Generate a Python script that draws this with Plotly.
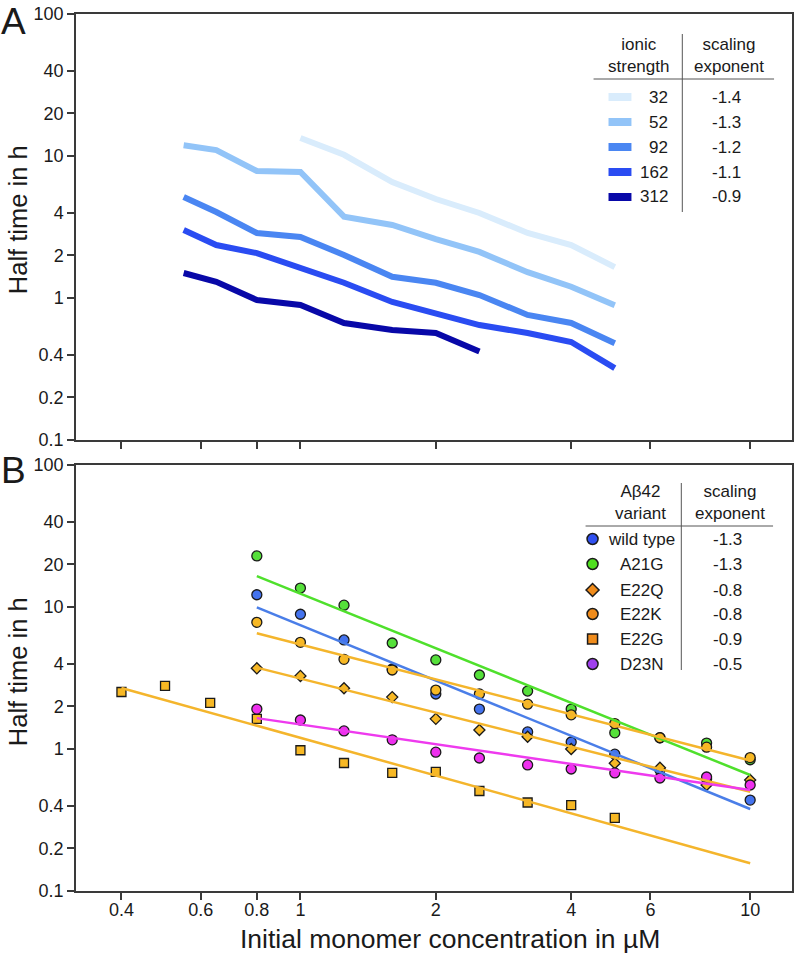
import plotly.graph_objects as go

# ---------------- data ----------------
# Panel A: half time (h) vs initial monomer concentration (uM) at different ionic strengths
conc_A = [0.55, 0.65, 0.8, 1.0, 1.25, 1.6, 2.0, 2.5, 3.2, 4.0, 5.0]
ionic_labels = ["32", "52", "92", "162", "312"]
ionic_exponents = ["-1.4", "-1.3", "-1.2", "-1.1", "-0.9"]
t_I32 = [None, None, None, 13.4, 10.2, 6.56, 4.98, 3.97, 2.87, 2.36, 1.65]
t_I52 = [11.9, 11.0, 7.84, 7.72, 3.74, 3.27, 2.60, 2.11, 1.52, 1.20, 0.89]
t_I92 = [5.14, 4.03, 2.87, 2.69, 2.01, 1.41, 1.28, 1.05, 0.76, 0.667, 0.48]
t_I162 = [3.01, 2.36, 2.07, 1.63, 1.28, 0.937, 0.784, 0.645, 0.567, 0.49, 0.321]
t_I312 = [1.50, 1.30, 0.968, 0.893, 0.667, 0.595, 0.567, 0.42, None, None, None]

# Panel B: Abeta42 variants
conc_B = [0.4, 0.5, 0.63, 0.8, 1.0, 1.25, 1.6, 2.0, 2.5, 3.2, 4.0, 5.0, 6.3, 8.0, 10.0]
variant_labels = ["wild type", "A21G", "E22Q", "E22K", "E22G", "D23N"]
variant_exponents = ["-1.3", "-1.3", "-0.8", "-0.8", "-0.9", "-0.5"]
t_wt = [None, None, None, 12.2, 8.89, 5.86, 3.66, 2.44, 1.91, 1.32, 1.12, 0.92, 0.711, 0.615, 0.437]
t_A21G = [None, None, None, 22.9, 13.6, 10.3, 5.58, 4.24, 3.32, 2.56, 1.91, 1.30, 1.20, 1.10, 0.84]
t_E22Q = [None, None, None, 3.70, 3.27, 2.68, 2.32, 1.63, 1.36, 1.22, 1.0, 0.793, 0.738, 0.558, 0.605]
t_E22K = [None, None, None, 7.8, 5.64, 4.28, 3.6, 2.6, 2.44, 2.07, 1.74, 1.51, 1.20, 1.03, 0.87]
t_E22G = [2.52, 2.78, 2.11, 1.63, 0.98, 0.797, 0.678, 0.689, 0.506, 0.42, 0.403, 0.327, None, None, None]
t_D23N = [None, None, None, 1.91, 1.60, 1.34, 1.16, 0.95, 0.864, 0.772, 0.723, 0.678, 0.625, 0.635, 0.558]

# power-law fit lines (end points)
fit_wt_x, fit_wt_y = [0.8, 10], [9.95, 0.378]
fit_A21G_x, fit_A21G_y = [0.8, 10], [16.5, 0.656]
fit_E22Q_x, fit_E22Q_y = [0.8, 10], [3.74, 0.50]
fit_E22K_x, fit_E22K_y = [0.8, 10], [6.53, 0.83]
fit_E22G_x, fit_E22G_y = [0.4, 10], [2.69, 0.157]
fit_D23N_x, fit_D23N_y = [0.8, 10], [1.65, 0.514]

tick_vals_x = [0.4, 0.6, 0.8, 1, 2, 4, 6, 10]
tick_text_x = ["0.4", "0.6", "0.8", "1", "2", "4", "6", "10"]
tick_vals_y = [0.1, 0.2, 0.4, 1, 2, 4, 10, 20, 40, 100]
tick_text_y = ["0.1", "0.2", "0.4", "1", "2", "4", "10", "20", "40", "100"]

# ---------------- styles ----------------
FONT = "Liberation Sans, Arial, sans-serif"
W, H = 796, 955
ML, MR, MT, MB = 76, 2, 14, 64
PW = W - ML - MR
PH = H - MT - MB

def px(x):
    return (x - ML) / PW

def py(y):
    return (H - MB - y) / PH

ionic_colors = ["#d9ecfc", "#92c4f8", "#4a86f2", "#2a4cf2", "#0808a8"]
ionic_series = [t_I32, t_I52, t_I92, t_I162, t_I312]

plot_colors = {"wt": "#4473ee", "A21G": "#55e03a", "E22Q": "#f7b824",
               "E22K": "#f7b824", "E22G": "#f7b824", "D23N": "#ee30ee"}
line_colors = {"wt": "#4a7ee8", "A21G": "#4fe02c", "E22Q": "#f4b52c",
               "E22K": "#f4b52c", "E22G": "#f4b52c", "D23N": "#ee3aee"}
legend_colors = ["#3050f0", "#50e020", "#f08c1c", "#f08c1c", "#f08c1c", "#a040ee"]

fig = go.Figure()

# Panel A lines
for lab, ser, col in zip(ionic_labels, ionic_series, ionic_colors):
    fig.add_trace(go.Scatter(x=conc_A, y=ser, mode="lines", name=lab,
                             line=dict(color=col, width=6), connectgaps=False,
                             xaxis="x", yaxis="y", showlegend=False))

# Panel B markers
marker_specs = [
    ("A21G", t_A21G, "circle", 10),
    ("wt", t_wt, "circle", 10),
    ("E22G", t_E22G, "square", 9),
    ("E22Q", t_E22Q, "diamond", 8.5),
    ("D23N", t_D23N, "circle", 10),
    ("E22K", t_E22K, "circle", 10),
]
for key, ser, sym, sz in marker_specs:
    fig.add_trace(go.Scatter(x=conc_B, y=ser, mode="markers", name=key,
                             marker=dict(symbol=sym, size=sz, color=plot_colors[key],
                                         line=dict(color="#1a1a1a", width=1.3)),
                             xaxis="x2", yaxis="y2", showlegend=False))

# Panel B fit lines
fits = [("A21G", fit_A21G_x, fit_A21G_y), ("wt", fit_wt_x, fit_wt_y),
        ("E22K", fit_E22K_x, fit_E22K_y), ("E22Q", fit_E22Q_x, fit_E22Q_y),
        ("E22G", fit_E22G_x, fit_E22G_y), ("D23N", fit_D23N_x, fit_D23N_y)]
for key, fx, fy in fits:
    fig.add_trace(go.Scatter(x=fx, y=fy, mode="lines", name=key + " fit",
                             line=dict(color=line_colors[key], width=2.5),
                             xaxis="x2", yaxis="y2", showlegend=False))

axis_common = dict(type="log", showgrid=False, zeroline=False, showline=True,
                   mirror=True, linecolor="#3a3a3a", linewidth=1.5,
                   ticks="outside", ticklen=7, tickwidth=1.5, tickcolor="#3a3a3a",
                   tickfont=dict(family=FONT, size=18, color="#1a1a1a"))
xrange = [-0.499, 1.093]
yrange = [-1, 2]
A_bottom = py(440)
B_top = py(465)

fig.update_layout(
    width=W, height=H, autosize=False,
    margin=dict(l=ML, r=MR, t=MT, b=MB, pad=0),
    paper_bgcolor="white", plot_bgcolor="white",
    font=dict(family=FONT, color="#1a1a1a"),
    xaxis=dict(axis_common, range=xrange, domain=[0, 1], anchor="y",
               tickvals=tick_vals_x, ticktext=tick_text_x, showticklabels=False),
    yaxis=dict(axis_common, range=yrange, domain=[A_bottom, 1], anchor="x",
               tickvals=tick_vals_y, ticktext=tick_text_y),
    xaxis2=dict(axis_common, range=xrange, domain=[0, 1], anchor="y2",
                tickvals=tick_vals_x, ticktext=tick_text_x, ticklabelstandoff=-5),
    yaxis2=dict(axis_common, range=yrange, domain=[0, B_top], anchor="x2",
                tickvals=tick_vals_y, ticktext=tick_text_y),
)

ann = []
shapes = []

def text(t, x, y, size=17, xanchor="center", angle=0):
    ann.append(dict(text=t, x=px(x), y=py(y), xref="paper", yref="paper",
                    xanchor=xanchor, yanchor="middle", textangle=angle,
                    showarrow=False, font=dict(size=size, family=FONT, color="#1a1a1a")))

# panel letters
text("A", 13, 21, size=37)
text("B", 13, 470, size=37)
# axis titles
text("Half time in h", 18, 220, size=25.5, angle=-90)
text("Half time in h", 18, 672, size=25.5, angle=-90)
text("Initial monomer concentration in µM", 451, 939, size=26.5)

TABLE_LINE = dict(color="#555", width=1)

# Legend table A
text("ionic<br>strength", 640, 55)
text("scaling<br>exponent", 731, 55)
shapes.append(dict(type="line", xref="paper", yref="paper", x0=px(595), x1=px(776),
                   y0=py(79), y1=py(79), line=TABLE_LINE))
shapes.append(dict(type="line", xref="paper", yref="paper", x0=px(684), x1=px(684),
                   y0=py(34), y1=py(212), line=TABLE_LINE))
rowsA = [97, 122, 147, 172, 197]
for ry, lab, ex, col in zip(rowsA, ionic_labels, ionic_exponents, ionic_colors):
    shapes.append(dict(type="rect", xref="paper", yref="paper", x0=px(610), x1=px(633),
                       y0=py(ry + 4), y1=py(ry - 4), fillcolor=col, line=dict(width=0)))
    text(lab, 672, ry, xanchor="right")
    text(ex, 728, ry)

# Legend table B
text("Aβ42<br>variant", 642, 503)
text("scaling<br>exponent", 732, 503)
shapes.append(dict(type="line", xref="paper", yref="paper", x0=px(587), x1=px(775),
                   y0=py(526), y1=py(526), line=TABLE_LINE))
shapes.append(dict(type="line", xref="paper", yref="paper", x0=px(683), x1=px(683),
                   y0=py(483), y1=py(670), line=TABLE_LINE))
rowsB = [539, 564, 590, 614, 639, 664]
symB = ["circle", "circle", "diamond", "circle", "square", "circle"]
for ry, lab, ex, col, sym in zip(rowsB, variant_labels, variant_exponents, legend_colors, symB):
    base = dict(xref="paper", yref="paper", xsizemode="pixel", ysizemode="pixel",
                xanchor=px(594), yanchor=py(ry), fillcolor=col,
                line=dict(color="#1a1a1a", width=1.5))
    if sym == "circle":
        shapes.append(dict(base, type="circle", x0=-5.5, x1=5.5, y0=-5.5, y1=5.5))
    elif sym == "square":
        shapes.append(dict(base, type="rect", x0=-5, x1=5, y0=-5, y1=5))
    else:
        shapes.append(dict(base, type="path", path="M -6.5 0 L 0 6.5 L 6.5 0 L 0 -6.5 Z"))
    text(lab, 643, ry)
    text(ex, 729, ry)

fig.update_layout(annotations=ann, shapes=shapes)
fig.write_html("out.html",
               config={"displayModeBar": False},
               post_script="document.body.style.margin='0px';"
                           "document.body.style.overflow='hidden';")
